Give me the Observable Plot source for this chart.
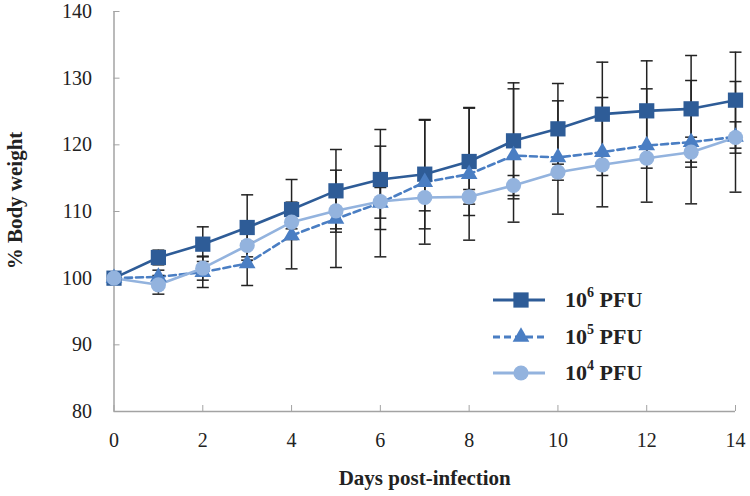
<!DOCTYPE html>
<html><head><meta charset="utf-8">
<script src="https://cdn.jsdelivr.net/npm/d3@7"></script>
<script src="https://cdn.jsdelivr.net/npm/@observablehq/plot@0.6"></script>
<style>
html,body{margin:0;padding:0;background:#fff;}
#wrap{position:relative;width:750px;height:496px;overflow:hidden;}
#legend{position:absolute;left:0;top:0;font-family:"Liberation Serif",serif;font-weight:bold;font-size:22px;color:#222;}
.row{position:absolute;display:flex;align-items:center;white-space:nowrap;}
.row sup{font-size:14px;position:relative;top:-2px;}
</style></head>
<body><div id="wrap"><div id="legend"></div></div>
<script>
const days = [0,1,2,3,4,5,6,7,8,9,10,11,12,13,14];
const seriesNames = ["10^6 PFU","10^5 PFU","10^4 PFU"];
const seriesExp = ["6","5","4"];
const w6 = [100,103.1,105.1,107.6,110.3,113.1,114.8,115.6,117.5,120.6,122.4,124.6,125.1,125.4,126.7];
const w5 = [100,100.2,100.9,102.2,106.4,108.9,111.3,114.4,115.6,118.4,118.1,118.9,119.9,120.4,121.2];
const w4 = [100,99.0,101.5,104.9,108.4,110.1,111.5,112.1,112.2,113.9,115.9,117.0,118.0,118.9,121.1];
const e6 = [0,1.1,2.6,4.9,4.5,6.2,7.5,8.2,8.1,8.7,6.8,7.8,7.5,8.0,7.2];
const e5 = [0,1.0,2.3,3.3,5.0,7.3,2.3,9.3,9.9,10.0,8.5,8.2,8.5,9.25,8.3];
const e4 = [0,1.4,1.8,1.7,1.0,2.7,8.3,2.0,1.1,1.5,1.2,1.6,1.5,2.25,2.35];
const xTicks = [0,2,4,6,8,10,12,14];
const yTicks = [80,90,100,110,120,130,140];

const colors = ["#2E5C97","#4A7EC3","#93B3DE"];
const dashes = [null,"7,4",null];
const symbols = ["square","triangle","circle"];
const radii = [8.6,6.2,7.6];

const values = [w6,w5,w4];
const errors = [e6,e5,e4];
const rows = [];
seriesNames.forEach((s,i)=>days.forEach((d,j)=>rows.push({series:s, idx:i, day:d, w:values[i][j], e:errors[i][j]})));
const bars = rows.filter(r=>r.e>0);
const capSymbol = {draw(ctx){ ctx.moveTo(-6,0); ctx.lineTo(6,0); }};

const marks = [
  Plot.ruleY([80],{stroke:"#a3a3a3",strokeWidth:1.5}),
  Plot.ruleX([0],{stroke:"#a3a3a3",strokeWidth:1.5}),
  Plot.axisX({ticks:xTicks, tickSize:-6, tickPadding:27, stroke:"#a3a3a3", fill:"#222", label:null, tickFormat:d=>d}),
  Plot.axisY({ticks:yTicks, tickSize:-6, tickPadding:28, stroke:"#a3a3a3", fill:"#222", label:null, tickFormat:d=>d}),
];
seriesNames.forEach((s,i)=>{
  marks.push(Plot.line(rows.filter(r=>r.idx===i),{x:"day",y:"w",stroke:colors[i],strokeWidth:2.6,strokeDasharray:dashes[i]}));
});
marks.push(
  Plot.ruleX(bars,{x:"day",y1:d=>d.w-d.e,y2:d=>d.w+d.e,stroke:"#222",strokeWidth:1.5}),
  Plot.dot(bars,{x:"day",y:d=>d.w-d.e,symbol:capSymbol,stroke:"#222",strokeWidth:1.5,r:4}),
  Plot.dot(bars,{x:"day",y:d=>d.w+d.e,symbol:capSymbol,stroke:"#222",strokeWidth:1.5,r:4})
);
seriesNames.forEach((s,i)=>{
  marks.push(Plot.dot(rows.filter(r=>r.idx===i),{x:"day",y:"w",symbol:symbols[i],fill:colors[i],stroke:null,r:radii[i]}));
});
marks.push(
  Plot.text(["Days post-infection"],{frameAnchor:"bottom",dy:73,fontWeight:"bold",fontSize:21,fill:"#222"}),
  Plot.text(["% Body weight"],{frameAnchor:"left",textAnchor:"middle",rotate:-90,dx:-99,dy:-11,fontWeight:"bold",fontSize:21,fill:"#222"})
);

const chart = Plot.plot({
  width:750, height:496,
  marginLeft:113.5, marginRight:15, marginTop:11, marginBottom:85,
  x:{domain:[0,14]}, y:{domain:[80,140]},
  style:{fontFamily:"Liberation Serif, serif", fontSize:"20px", background:"#fff", overflow:"visible"},
  marks
});
document.getElementById("wrap").prepend(chart);

// legend
const legend = d3.select("#legend");
const rowTops = [300,337,373];
seriesNames.forEach((s,i)=>{
  const row = legend.append("div").attr("class","row").style("left","492px").style("top",(rowTops[i]-14)+"px").style("height","28px");
  const svg = row.append("svg").attr("width",54).attr("height",28).style("overflow","visible");
  svg.append("line").attr("x1",1).attr("x2",53).attr("y1",14).attr("y2",14)
    .attr("stroke",colors[i]).attr("stroke-width",2.8).attr("stroke-dasharray",dashes[i]);
  const sym = {square:d3.symbolSquare,triangle:d3.symbolTriangle,circle:d3.symbolCircle}[symbols[i]];
  svg.append("path").attr("d",d3.symbol(sym, Math.PI*radii[i]*radii[i])()).attr("transform","translate(29,14)").attr("fill",colors[i]);
  const t = row.append("div").style("margin-left","19px");
  t.append("span").text(s.split("^")[0]);
  t.append("sup").text(seriesExp[i]);
  t.append("span").text(" PFU");
});
</script>
</body></html>
